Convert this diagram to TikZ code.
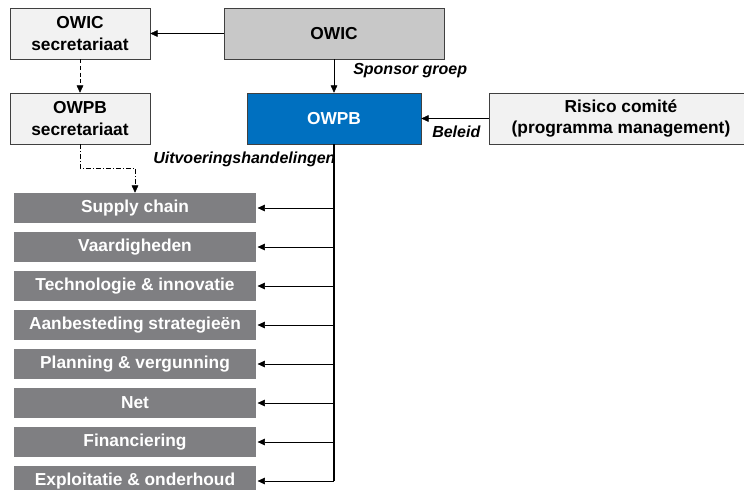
\documentclass[tikz,border=0pt]{standalone}
\usepackage{fontspec}
\setmainfont{Liberation Sans}
\usetikzlibrary{arrows.meta}

\definecolor{boxlight}{RGB}{242,242,242}
\definecolor{boxmid}{RGB}{200,200,200}
\definecolor{owpbblue}{RGB}{0,112,192}
\definecolor{workgray}{RGB}{127,127,130}

\tikzset{
  boxtext/.style={font=\fontsize{13}{16}\selectfont\bfseries, align=center, inner sep=0pt},
  orgbox/.style={boxtext, draw=black!75, fill=boxlight, minimum height=38.25pt},
  workbox/.style={boxtext, fill=workgray, text=white, minimum width=181.5pt, minimum height=22.5pt},
  linklabel/.style={font=\fontsize{12}{14}\selectfont\bfseries\itshape, inner sep=0pt, anchor=west},
  arr/.style={-{Triangle[length=5.5pt,width=5pt]}},
}

\begin{document}
\begin{tikzpicture}[x=0.75pt, y=-0.75pt, thin]
  \useasboundingbox (0,0) rectangle (744,490);
  % secretariaten
  \node[orgbox, minimum width=105pt] (sec1) at (80,33.5) {OWIC\\secretariaat};
  \node[orgbox, minimum width=105pt] (sec2) at (80,118.5) {OWPB\\secretariaat};
  % bestuur
  \node[orgbox, fill=boxmid, minimum width=165pt] (owic) at (334,33.5) {OWIC};
  \node[orgbox, fill=owpbblue, text=white, minimum width=130.5pt] (owpb) at (334,118.5) {OWPB};
  \node[orgbox, minimum width=198pt] (risico) at (621,118.5) {Risico comité\\(programma management)};
  % werkgroepen
  \foreach \name [count=\i from 0] in {Supply chain, Vaardigheden, Technologie \& innovatie,
      Aanbesteding strategieën, Planning \& vergunning, Net, Financiering, Exploitatie \& onderhoud}
    \node[workbox] (w\i) at (135,{208+39*\i}) {\name};
  % verbindingen
  \draw[arr] (owic) -- (sec1);
  \draw[arr] (owic) -- (owpb);
  \draw[arr] (risico) -- (owpb);
  \draw[arr, dash pattern=on 3pt off 2pt] (sec1) -- (sec2);
  \draw[arr, dash pattern=on 3.5pt off 1.5pt on 1pt off 1.5pt] (sec2.south) |- (135,168) -- (w0.north);
  \draw[line width=1.2pt] (owpb.south) -- (owpb.south |- w7.east);
  \foreach \i in {0,...,7}
    \draw[arr, shorten >=1pt] (owpb.south |- w\i.east) -- (w\i.east);
  % labels
  \node[linklabel] (lsponsor) at (353,71) {Sponsor groep};
  \node[linklabel] (lbeleid) at (432,132) {Beleid};
  \node[linklabel] (luitvoer) at (153,159) {Uitvoeringshandelingen};
\end{tikzpicture}
\end{document}
